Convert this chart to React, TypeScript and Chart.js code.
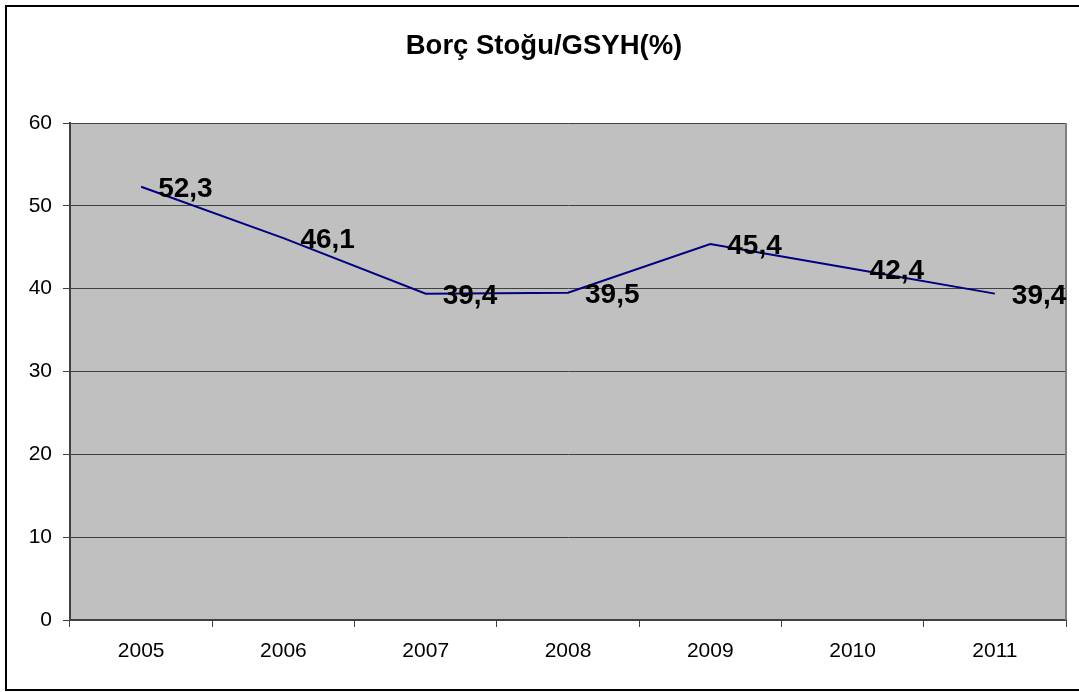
import { useEffect, useRef } from 'react';
import { Chart, registerables } from 'chart.js';

Chart.register(...registerables);

const categories: string[] = ['2005', '2006', '2007', '2008', '2009', '2010', '2011'];
const debtRatio: number[] = [52.3, 46.1, 39.4, 39.5, 45.4, 42.4, 39.4];
const yMin = 0;
const yMax = 60;
const yStep = 10;
const chartTitle = 'Borç Stoğu/GSYH(%)';

const FONT = '"Liberation Sans", Arial, sans-serif';

const fmt = (v: number) => v.toFixed(1).replace('.', ',');

const plotBackground = {
  id: 'plotBackground',
  beforeDraw(chart: any) {
    const { ctx, chartArea } = chart;
    const { left, top, right, bottom } = chartArea;
    ctx.save();
    ctx.fillStyle = '#C0C0C0';
    ctx.fillRect(left, top, right - left, bottom - top);
    ctx.restore();
  },
  beforeDatasetsDraw(chart: any) {
    const { ctx, chartArea } = chart;
    const { top, right, bottom } = chartArea;
    ctx.save();
    ctx.strokeStyle = '#808080';
    ctx.lineWidth = 2;
    ctx.beginPath();
    ctx.moveTo(right, top);
    ctx.lineTo(right, bottom);
    ctx.stroke();
    ctx.restore();
  },
};

const titleDrawer = {
  id: 'titleDrawer',
  afterDraw(chart: any) {
    const { ctx } = chart;
    ctx.save();
    ctx.fillStyle = '#000000';
    ctx.font = `bold 27.5px ${FONT}`;
    ctx.textAlign = 'center';
    ctx.textBaseline = 'alphabetic';
    ctx.fillText(chartTitle, chart.width / 2, 54);
    ctx.restore();
  },
};

const valueLabels = {
  id: 'valueLabels',
  afterDatasetsDraw(chart: any) {
    const { ctx } = chart;
    const meta = chart.getDatasetMeta(0);
    ctx.save();
    ctx.fillStyle = '#000000';
    ctx.font = `bold 28px ${FONT}`;
    ctx.textAlign = 'left';
    ctx.textBaseline = 'alphabetic';
    meta.data.forEach((pt: any, i: number) => {
      ctx.fillText(fmt(debtRatio[i]), pt.x + 17, pt.y + 10);
    });
    ctx.restore();
  },
};

export default function App() {
  const canvasRef = useRef<HTMLCanvasElement | null>(null);

  useEffect(() => {
    if (!canvasRef.current) return;
    const chart = new Chart(canvasRef.current, {
      type: 'line',
      data: {
        labels: categories,
        datasets: [
          {
            label: chartTitle,
            data: debtRatio,
            borderColor: '#000080',
            backgroundColor: '#000080',
            borderWidth: 2,
            pointRadius: 0,
            tension: 0,
            fill: false,
          },
        ],
      },
      options: {
        responsive: false,
        animation: false,
        devicePixelRatio: 1,
        layout: { padding: { left: 0, right: 22, top: 123, bottom: 0 } },
        plugins: {
          legend: { display: false },
          tooltip: { enabled: false },
          title: { display: false },
        },
        scales: {
          x: {
            type: 'category',
            offset: true,
            grid: {
              display: true,
              drawOnChartArea: false,
              drawTicks: true,
              tickLength: 7,
              color: '#404040',
              offset: true,
            },
            border: { display: true, color: '#404040', width: 2 },
            ticks: {
              color: '#000000',
              font: { family: FONT, size: 21 },
              padding: 12,
              maxRotation: 0,
            },
            afterFit(scale: any) {
              scale.height = 72;
            },
          },
          y: {
            min: yMin,
            max: yMax,
            ticks: {
              stepSize: yStep,
              color: '#000000',
              font: { family: FONT, size: 21 },
              padding: 11,
            },
            grid: {
              color: '#404040',
              lineWidth: 1,
              drawTicks: true,
              tickLength: 7,
            },
            border: { display: true, color: '#404040', width: 2 },
            afterFit(scale: any) {
              scale.width = 70;
            },
          },
        },
      },
      plugins: [plotBackground, valueLabels, titleDrawer],
    });
    return () => chart.destroy();
  }, []);

  return (
    <div
      style={{
        position: 'fixed',
        left: 0,
        top: 0,
        width: 1079,
        height: 692,
        overflow: 'hidden',
        background: '#ffffff',
      }}
    >
      <canvas
        ref={canvasRef}
        width={1088}
        height={692}
        style={{ position: 'absolute', left: 0, top: 0, width: 1088, height: 692 }}
      />
      <div
        style={{
          position: 'absolute',
          left: 5,
          top: 5,
          width: 1120,
          height: 682,
          border: '2px solid #000000',
          pointerEvents: 'none',
        }}
      />
    </div>
  );
}
